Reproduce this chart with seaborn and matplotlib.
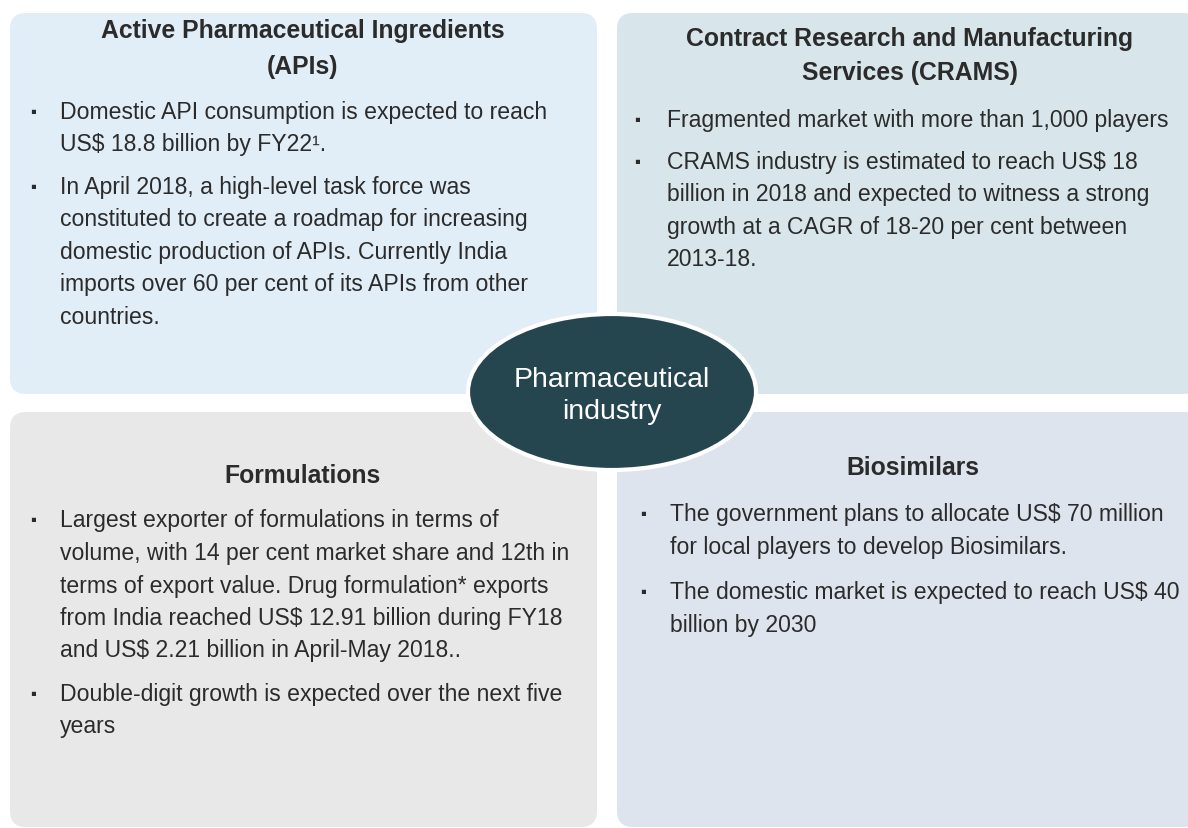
import matplotlib
matplotlib.use("Agg")
import matplotlib.pyplot as plt
import seaborn as sns
from matplotlib.patches import FancyBboxPatch, Ellipse

# --- content -------------------------------------------------------------
titles = [
    ["Active Pharmaceutical Ingredients", "(APIs)"],
    ["Contract Research and Manufacturing", "Services (CRAMS)"],
    ["Formulations"],
    ["Biosimilars"],
]

bullets = [
    [
        ["Domestic API consumption is expected to reach",
         "US$ 18.8 billion by FY22\u00b9."],
        ["In April 2018, a high-level task force was",
         "constituted to create a roadmap for increasing",
         "domestic production of APIs. Currently India",
         "imports over 60 per cent of its APIs from other",
         "countries."],
    ],
    [
        ["Fragmented market with more than 1,000 players"],
        ["CRAMS industry is estimated to reach US$ 18",
         "billion in 2018 and expected to witness a strong",
         "growth at a CAGR of 18-20 per cent between",
         "2013-18."],
    ],
    [
        ["Largest exporter of formulations in terms of",
         "volume, with 14 per cent market share and 12th in",
         "terms of export value. Drug formulation* exports",
         "from India reached US$ 12.91 billion during FY18",
         "and US$ 2.21 billion in April-May 2018.."],
        ["Double-digit growth is expected over the next five",
         "years"],
    ],
    [
        ["The government plans to allocate US$ 70 million",
         "for local players to develop Biosimilars."],
        ["The domestic market is expected to reach US$ 40",
         "billion by 2030"],
    ],
]

centre_label = ["Pharmaceutical", "industry"]

panel_colors = ["#E1EDF7", "#D8E6EB", "#E8E8E8", "#DDE4EE"]
centre_color = "#26464F"
text_color = "#2B2B2B"

# --- layout (pixel space) -----------------------------------------------
W, H = 1188, 829
panels = [  # x0, y0, x1, y1
    (10, 14, 597, 395),
    (617, 14, 1200, 395),
    (10, 413, 597, 828),
    (617, 413, 1200, 828),
]
title_y = [[31, 67], [39, 73], [476], [468]]
title_x = [303, 910, 303, 913]
bullet_x = [33, 637, 33, 643]
text_x = [60, 667, 60, 670]
bullet_y0 = [[112, 187], [120, 162], [521, 694], [515, 593]]
line_h = 32.5

sns.set_theme(style="white")
plt.rcParams["font.family"] = ["Liberation Sans", "DejaVu Sans"]

fig = plt.figure(figsize=(W / 100, H / 100), dpi=100)
ax = fig.add_axes([0, 0, 1, 1])
ax.set_xlim(0, W)
ax.set_ylim(H, 0)
ax.axis("off")

for i, (x0, y0, x1, y1) in enumerate(panels):
    ax.add_patch(FancyBboxPatch((x0, y0), x1 - x0, y1 - y0,
                                boxstyle="round,pad=0,rounding_size=16",
                                fc=panel_colors[i], ec="none", zorder=1))
    for line, ty in zip(titles[i], title_y[i]):
        ax.text(title_x[i], ty, line, ha="center", va="center",
                fontsize=17.8, fontweight="bold", color=text_color, zorder=3)
    for item, by in zip(bullets[i], bullet_y0[i]):
        ax.text(bullet_x[i], by, "\u25aa", ha="center", va="center",
                fontsize=12, color=text_color, zorder=3)
        for k, line in enumerate(item):
            ax.text(text_x[i], by + k * line_h, line, ha="left", va="center",
                    fontsize=16.6, color=text_color, zorder=3)

ax.add_patch(Ellipse((612, 393), 288, 156, fc=centre_color, ec="white",
                     lw=3, zorder=4))
for k, line in enumerate(centre_label):
    ax.text(612, 380 + k * 32, line, ha="center", va="center",
            fontsize=20.5, color="white", zorder=5)

fig.savefig("out.png", dpi=100, facecolor="white")
